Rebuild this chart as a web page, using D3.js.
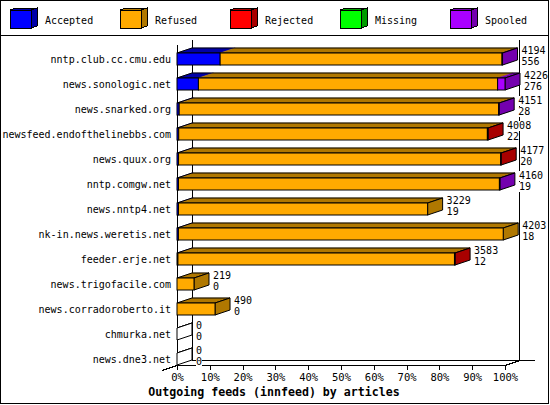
<!DOCTYPE html>
<html>
<head>
<meta charset="utf-8">
<script src="https://cdn.jsdelivr.net/npm/d3@7"></script>
<style>
body { margin: 0; background: #fff; }
svg { display: block; }
</style>
</head>
<body>
<div id="chart"></div>
<script>
const hosts = ["nntp.club.cc.cmu.edu", "news.sonologic.net", "news.snarked.org",
    "newsfeed.endofthelinebbs.com", "news.quux.org", "nntp.comgw.net", "news.nntp4.net",
    "nk-in.news.weretis.net", "feeder.erje.net", "news.trigofacile.com",
    "news.corradoroberto.it", "chmurka.net", "news.dne3.net"];
const offered  = [4194, 4226, 4151, 4008, 4177, 4160, 3229, 4203, 3583, 219, 490, 0, 0];
const accepted = [556, 276, 28, 22, 20, 19, 19, 18, 12, 0, 0, 0, 0];
const refused  = [3632, 3855, 4116, 3977, 4150, 4135, 3210, 4185, 3563, 219, 490, 0, 0];
const rejected = [0, 0, 0, 9, 7, 0, 0, 0, 8, 0, 0, 0, 0];
const missing  = [0, 0, 0, 0, 0, 0, 0, 0, 0, 0, 0, 0, 0];
const spooled  = [6, 95, 7, 0, 0, 6, 0, 0, 0, 0, 0, 0, 0];
const seriesNames = ["Accepted", "Refused", "Rejected", "Missing", "Spooled"];
const tickValues = [0, 10, 20, 30, 40, 50, 60, 70, 80, 90, 100];
const title = "Outgoing feeds (innfeed) by articles";

const series = [accepted, refused, rejected, missing, spooled];
const fronts = ["#0000ff", "#ffaa00", "#ff0000", "#00ff00", "#aa00ff"];
const sides  = ["#0000a8", "#b07800", "#a80000", "#009c00", "#7400ae"];

const width = 550, height = 405;
const dx = 15, dy = -5;
const mono = "'DejaVu Sans Mono', 'Liberation Mono', monospace";

const svg = d3.select("#chart").append("svg")
    .attr("width", width).attr("height", height)
    .attr("shape-rendering", "crispEdges");

// frame + legend separator
svg.append("rect").attr("x", 0.5).attr("y", 0.5).attr("width", 548).attr("height", 403)
    .attr("fill", "#fff").attr("stroke", "#000");
svg.append("line").attr("x1", 0).attr("x2", 549).attr("y1", 35.5).attr("y2", 35.5).attr("stroke", "#000");

// legend
const leg = svg.append("g").selectAll("g").data(seriesNames).join("g")
    .attr("transform", (d, i) => `translate(${10 + i * 110},10)`);
leg.append("polygon")
    .attr("points", "0,0 21,0 27,-2 6,-2")
    .attr("fill", (d, i) => sides[i]).attr("stroke", "#000");
leg.append("polygon")
    .attr("points", "21,0 27,-2 27,16 21,18")
    .attr("fill", (d, i) => sides[i]).attr("stroke", "#000");
leg.append("rect").attr("width", 21).attr("height", 18)
    .attr("fill", (d, i) => fronts[i]).attr("stroke", "#000");
leg.append("text").attr("x", 35).attr("y", 10)
    .attr("dominant-baseline", "central")
    .style("font", `10px ${mono}`).text(d => d);

// scales
const maxOffered = d3.max(offered);
const pct = v => v / maxOffered * 100;
const x = d3.scaleLinear().domain([0, 100]).range([177, 505]);
const y = d3.scaleBand().domain(hosts).range([46.5, 371.5]).paddingInner(0.52).paddingOuter(0.26);

// walls
const axes = svg.append("g").attr("stroke", "#000").attr("fill", "none");
const ln = (x1, y1, x2, y2) => axes.append("line").attr("x1", x1).attr("y1", y1).attr("x2", x2).attr("y2", y2);
ln(192.5, 40, 192.5, 360.5);
ln(192, 360.5, 535, 360.5);
ln(519.5, 40, 519.5, 360.5);
ln(177, 365.5, x(100), 365.5);
ln(x(100), 365.5, x(100) + dx, 360.5);
ln(177, 365.5, 177 - dx, 370.5);
ln(177.5, 45, 177.5, 366);

// x axis ticks
const xAxis = svg.append("g").attr("transform", "translate(0,365.5)")
    .call(d3.axisBottom(x).tickValues(tickValues).tickSize(4).tickPadding(4).tickFormat(d => d + "%"));
xAxis.select(".domain").remove();
xAxis.selectAll("text").style("font", `10.5px ${mono}`).attr("fill", "#000");
xAxis.selectAll("line").attr("stroke", "#000");

// category labels
svg.append("g").selectAll("text").data(hosts).join("text")
    .attr("x", 171).attr("y", d => y(d) + y.bandwidth() / 2)
    .attr("text-anchor", "end").attr("dominant-baseline", "central")
    .style("font", `10px ${mono}`).text(d => d);

// bars
const bars = svg.append("g").attr("shape-rendering", "geometricPrecision");
hosts.forEach((h, i) => {
    const top = y(h), bot = y(h) + y.bandwidth();
    const g = bars.append("g");
    let acc = 0, last = -1;
    const segs = series.map((s, k) => {
        const x0 = x(pct(acc));
        acc += s[i];
        if (s[i] > 0) last = k;
        return { k, x0, x1: x(pct(acc)), v: s[i] };
    }).filter(d => d.v > 0);
    const xe = x(pct(acc));
    // top faces
    g.selectAll(".tf").data(segs).join("polygon")
        .attr("points", d => `${d.x0},${top} ${d.x1},${top} ${d.x1 + dx},${top + dy} ${d.x0 + dx},${top + dy}`)
        .attr("fill", d => sides[d.k]).attr("stroke", d => sides[d.k]).attr("stroke-width", 0.5);
    g.append("polygon")
        .attr("points", `${x(0)},${top} ${xe},${top} ${xe + dx},${top + dy} ${x(0) + dx},${top + dy}`)
        .attr("fill", "none").attr("stroke", "#000");
    // side face
    g.append("polygon")
        .attr("points", `${xe},${top} ${xe + dx},${top + dy} ${xe + dx},${bot + dy} ${xe},${bot}`)
        .attr("fill", last >= 0 ? sides[last] : "#fff").attr("stroke", "#000");
    // front faces
    g.selectAll(".ff").data(segs).join("rect")
        .attr("x", d => d.x0).attr("y", top)
        .attr("width", d => d.x1 - d.x0).attr("height", bot - top)
        .attr("fill", d => fronts[d.k]).attr("stroke", "#000");

    // value labels
    const lx = xe + dx + 4;
    [[offered[i], top - 2.5], [accepted[i], top + 8.5]].forEach(([v, ly]) => {
        const bg = svg.append("rect").attr("fill", "#fff");
        const t = svg.append("text").attr("x", lx).attr("y", ly)
            .attr("dominant-baseline", "central")
            .style("font", `10px ${mono}`).text(v);
        const bb = t.node().getBBox();
        bg.attr("x", bb.x).attr("y", ly - 5).attr("width", bb.width).attr("height", 10);
    });
});

// title
svg.append("text").attr("x", 274).attr("y", 392)
    .attr("text-anchor", "middle").attr("dominant-baseline", "central")
    .style("font", `bold 11.6px ${mono}`).text(title);
</script>
</body>
</html>
